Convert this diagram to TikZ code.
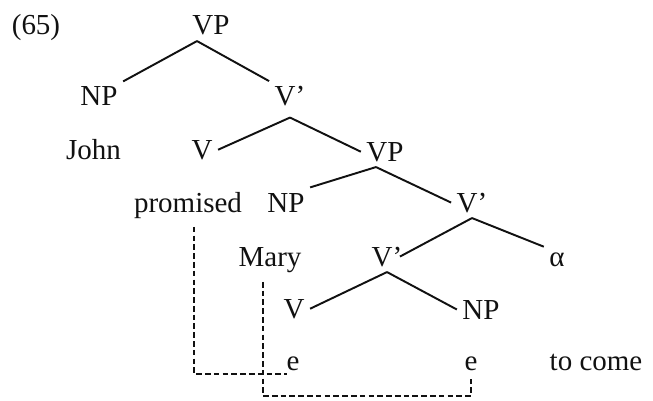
\documentclass[tikz,border=0pt]{standalone}
\usepackage{fontspec}
\setmainfont{Liberation Serif}
\usepackage{tikz}
\definecolor{murekkep}{HTML}{111111}

\tikzset{
  treeLabel/.style={anchor=base,inner sep=3pt,text=murekkep,font=\fontsize{16.5}{20}\selectfont},
  branch/.style={murekkep,line width=1.1pt},
  traceLine/.style={murekkep,line width=0.9pt,dash pattern=on 3.2pt off 1.8pt},
}

\begin{document}
\begin{tikzpicture}
\useasboundingbox (0,0) rectangle (13.06,-8.00);
% etiketler
\node[treeLabel] (num) at (0.72,-0.70) {(65)};
\node[treeLabel] (vpTop) at (4.22,-0.70) {VP};
\node[treeLabel] (npJohn) at (1.98,-2.12) {NP};
\node[treeLabel] (vbarTop) at (5.80,-2.12) {V’};
\node[treeLabel] (john) at (1.87,-3.18) {John};
\node[treeLabel] (vProm) at (4.04,-3.18) {V};
\node[treeLabel] (vpLow) at (7.70,-3.22) {VP};
\node[treeLabel] (promised) at (3.76,-4.24) {promised};
\node[treeLabel] (npMary) at (5.72,-4.24) {NP};
\node[treeLabel] (vbarMid) at (9.44,-4.24) {V’};
\node[treeLabel] (mary) at (5.40,-5.32) {Mary};
\node[treeLabel] (vbarLow) at (7.74,-5.32) {V’};
\node[treeLabel] (alpha) at (11.14,-5.32) {α};
\node[treeLabel] (vEmpty) at (5.88,-6.36) {V};
\node[treeLabel] (npEmpty) at (9.62,-6.38) {NP};
\node[treeLabel] (eV) at (5.86,-7.40) {e};
\node[treeLabel] (eNP) at (9.42,-7.40) {e};
\node[treeLabel] (toCome) at (11.92,-7.40) {to come};
\coordinate (bottom) at (0,-7.92);
% dallar
\draw[branch] ([xshift=-0.28cm]vpTop.south) -- (npJohn.north east);
\draw[branch] ([xshift=-0.28cm]vpTop.south) -- (vbarTop.north west);
\draw[branch] ([yshift=-0.11cm]vbarTop.south) -- (vProm.east);
\draw[branch] ([yshift=-0.11cm]vbarTop.south) -- (vpLow.west);
\draw[branch] ([xshift=-0.18cm]vpLow.south) -- (npMary.north east);
\draw[branch] ([xshift=-0.18cm]vpLow.south) -- (vbarMid.west);
\draw[branch] (vbarMid.south) -- ([xshift=-0.16cm]vbarLow.east);
\draw[branch] (vbarMid.south) -- (alpha.north west);
\draw[branch] (vbarLow.south) -- (vEmpty.east);
\draw[branch] (vbarLow.south) -- (npEmpty.west);
% izler
\draw[traceLine] ([xshift=0.12cm,yshift=-0.06cm]promised.south) |- ([xshift=0.12cm,yshift=0.04cm]eV.south west);
\draw[traceLine] ([xshift=-0.14cm,yshift=-0.08cm]mary.south) |- (bottom -| eNP.south) -- (eNP.south);
\end{tikzpicture}
\end{document}
